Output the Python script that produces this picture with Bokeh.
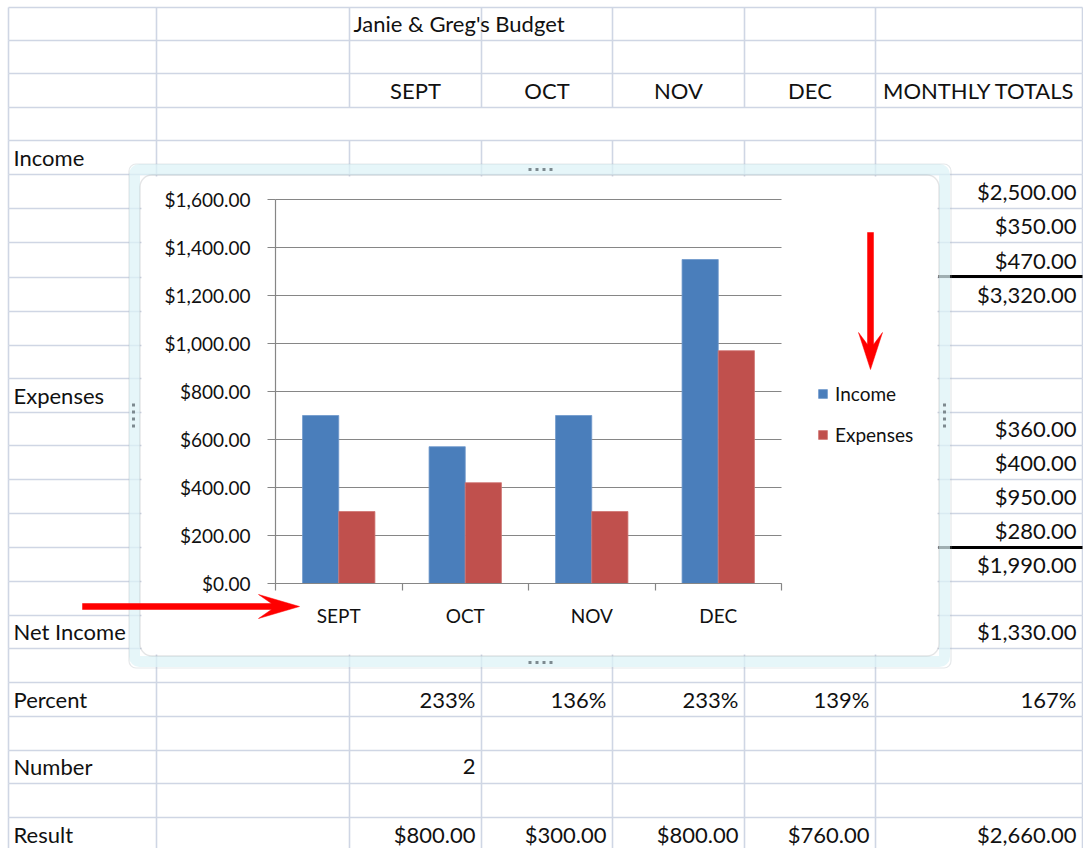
from bokeh.plotting import figure
from bokeh.models import (Range1d, ColumnDataSource, LinearAxis, BoxAnnotation,
                          Legend, LegendItem, NumeralTickFormatter, FixedTicker)
from bokeh.transform import dodge
from bokeh.core.properties import value
from bokeh.embed import file_html
from bokeh.resources import INLINE

# ---------------- chart data ----------------
months = ["SEPT", "OCT", "NOV", "DEC"]
income = [700, 570, 700, 1350]
expenses = [300, 420, 300, 970]
y_ticks = [0, 200, 400, 600, 800, 1000, 1200, 1400, 1600]

# ---------------- spreadsheet content ----------------
sheet_title = "Janie & Greg's Budget"
totals_header = "MONTHLY TOTALS"
row_labels = ["Income", "Expenses", "Net Income", "Percent", "Number", "Result"]
income_items = [2500, 350, 470]
income_total = 3320
expense_items = [360, 400, 950, 280]
expense_total = 1990
net_income_total = 1330
percent_row = ["233%", "136%", "233%", "139%"]
percent_total = "167%"
number_value = "2"
result_row = [800, 300, 800, 760]
result_total = 2660


def money(v):
    return "${:,.2f}".format(v)


# ---------------- page geometry (pixels from top-left) ----------------
W, H = 1083, 848
COL = [8, 156, 349, 481, 612, 744, 875, 1082]
ROW = [7, 40, 73, 107, 140, 174, 208, 242, 277, 311, 345, 378, 412, 445,
       479, 513, 547, 581, 615, 648, 682, 716, 750, 783, 817, 851]
INNER = (141, 937, 176, 654)            # chart interior (sheet grid hidden)
PL, PR, PT, PB = 275, 781, 199, 583     # chart plot area

FONT = "Lato"
CELL_SIZE = "22px"
CHART_SIZE = "19px"
TXT = "#111111"
AXC = "#868686"

n = len(months)
ymax = y_ticks[-1]
centers = [i + 0.5 for i in range(n)]

kx = (PR - PL) / n
ky = (PB - PT) / ymax

p = figure(width=W, height=H, x_range=Range1d(0, W), y_range=Range1d(H, 0),
           x_axis_type=None, y_axis_type=None,
           output_backend="svg", toolbar_location=None,
           min_border=0, min_border_left=0, min_border_right=0,
           min_border_top=0, min_border_bottom=0,
           background_fill_color="white", border_fill_color="white",
           outline_line_color=None)
p.extra_x_ranges = {"cat": Range1d(-PL / kx, (W - PL) / kx)}
p.extra_y_ranges = {"usd": Range1d(-(H - PB) / ky, PB / ky)}

# ---------------- sheet grid ----------------
def outside(a0, a1, b0, b1):
    if a1 <= b0 or a0 >= b1:
        return [(a0, a1)]
    parts = []
    if a0 < b0:
        parts.append((a0, b0))
    if a1 > b1:
        parts.append((b1, a1))
    return parts

gx0, gy0, gx1, gy1 = [], [], [], []
for y in ROW:
    segs = outside(COL[0], COL[-1], INNER[0], INNER[1]) if INNER[2] < y < INNER[3] else [(COL[0], COL[-1])]
    for a, b in segs:
        gx0.append(a); gx1.append(b); gy0.append(y); gy1.append(y)
merged = {349, 481, 612, 744}
for r in range(len(ROW) - 1):
    for x in COL:
        if r == 3 and x in merged:
            continue
        ya, yb = ROW[r], ROW[r + 1]
        segs = outside(ya, yb, INNER[2], INNER[3]) if INNER[0] < x < INNER[1] else [(ya, yb)]
        for a, b in segs:
            gx0.append(x); gx1.append(x); gy0.append(a); gy1.append(b)

p.segment(x0=gx0, y0=gy0, x1=gx1, y1=gy1, line_color="#cfd6e4", line_width=1.6,
          level="image")
p.segment(x0=[938, 938], x1=[1082, 1082], y0=[ROW[8] - 1, ROW[16]], y1=[ROW[8] - 1, ROW[16]],
          line_color="#000000", line_width=3, level="image")

# ---------------- chart container frame ----------------
p.add_layout(BoxAnnotation(left=134, right=944, top=169, bottom=661,
                           fill_color=None, fill_alpha=0, line_color="#dcf2f6",
                           line_alpha=0.72, line_width=11, border_radius=5,
                           level="underlay"))
p.add_layout(BoxAnnotation(left=128.5, right=950.5, top=163.5, bottom=667.5,
                           fill_color=None, fill_alpha=0, line_color="#aab3b8",
                           line_width=1.2, border_radius=7, level="underlay"))
p.add_layout(BoxAnnotation(left=139.5, right=938.5, top=174.5, bottom=655.5,
                           fill_color=None, fill_alpha=0, line_color="#a4a8ab",
                           line_width=1.4, border_radius=12, level="underlay"))
p.segment(x0=[528, 528, 133, 944], x1=[552, 552, 133, 944],
          y0=[169, 662, 403, 403], y1=[169, 662, 427, 427],
          line_color="#7d8a90", line_width=3, line_dash="3 4")

# ---------------- chart gridlines and bars ----------------
p.segment(x0=[0] * len(y_ticks), x1=[n] * len(y_ticks), y0=y_ticks, y1=y_ticks,
          line_color=AXC, line_width=1.2, x_range_name="cat", y_range_name="usd")

src = ColumnDataSource(dict(pos=centers, months=months, income=income, expenses=expenses))
r_inc = p.vbar(x=dodge("pos", -0.143), top="income", width=0.286, source=src,
               fill_color="#4a7ebb", line_color="#6f98cc", line_width=0.8,
               x_range_name="cat", y_range_name="usd")
r_exp = p.vbar(x=dodge("pos", 0.143), top="expenses", width=0.286, source=src,
               fill_color="#c0504d", line_color="#cf7471", line_width=0.8,
               x_range_name="cat", y_range_name="usd")

# ---------------- axes (drawn at the chart's own location) ----------------
yax = LinearAxis(y_range_name="usd", fixed_location=PL, bounds=(0, ymax),
                 ticker=FixedTicker(ticks=y_ticks),
                 formatter=NumeralTickFormatter(format="$0,0.00"))
yax.major_tick_in = 0
yax.major_tick_out = 8
yax.minor_tick_line_color = None
yax.major_label_standoff = 17
p.add_layout(yax, "left")

xax = LinearAxis(x_range_name="cat", y_range_name="usd", fixed_location=0,
                 bounds=(0, n),
                 ticker=FixedTicker(ticks=centers, minor_ticks=list(range(n + 1))))
xax.major_label_overrides = {c: m for c, m in zip(centers, months)}
xax.major_tick_line_color = None
xax.major_tick_in = 0
xax.major_tick_out = 0
xax.minor_tick_in = 0
xax.minor_tick_out = 7
xax.minor_tick_line_color = AXC
xax.minor_tick_line_width = 1.2
xax.major_label_standoff = 13
p.add_layout(xax, "below")

for ax in (xax, yax):
    ax.axis_line_color = AXC
    ax.axis_line_width = 1.2
    ax.major_label_text_font = FONT
    ax.major_label_text_font_size = CHART_SIZE
    ax.major_label_text_color = TXT
yax.major_tick_line_color = AXC
yax.major_tick_line_width = 1.2

# ---------------- legend ----------------
legend = Legend(items=[LegendItem(label="Income", renderers=[r_inc]),
                       LegendItem(label="Expenses", renderers=[r_exp])],
                location=(817, H - 446), orientation="vertical",
                glyph_width=11, glyph_height=11, label_standoff=7, spacing=17,
                label_height=24, padding=0, margin=0, border_line_color=None,
                background_fill_alpha=0,
                label_text_font=FONT, label_text_font_size=CHART_SIZE,
                label_text_color=TXT)
p.add_layout(legend)

# ---------------- sheet texts ----------------
def base(r):
    return ROW[r + 1] - 17

left_x, left_y, left_t = [353], [base(0)], [sheet_title]
for lab, r in zip(row_labels, [4, 11, 18, 20, 22, 24]):
    left_x.append(13); left_y.append(base(r)); left_t.append(lab)

cen_x, cen_y, cen_t = [], [], []
for i, m in enumerate(months):
    cen_x.append((COL[2 + i] + COL[3 + i]) / 2); cen_y.append(base(2)); cen_t.append(m)
cen_x.append((COL[6] + COL[7]) / 2); cen_y.append(base(2)); cen_t.append(totals_header)

GX = COL[7] - 6
right_x, right_y, right_t = [], [], []
for v, r in zip(income_items, [5, 6, 7]):
    right_x.append(GX); right_y.append(base(r)); right_t.append(money(v))
right_x.append(GX); right_y.append(base(8)); right_t.append(money(income_total))
for v, r in zip(expense_items, [12, 13, 14, 15]):
    right_x.append(GX); right_y.append(base(r)); right_t.append(money(v))
right_x.append(GX); right_y.append(base(16)); right_t.append(money(expense_total))
right_x.append(GX); right_y.append(base(18)); right_t.append(money(net_income_total))
for i, v in enumerate(percent_row):
    right_x.append(COL[3 + i] - 6); right_y.append(base(20)); right_t.append(v)
right_x.append(GX); right_y.append(base(20)); right_t.append(percent_total)
right_x.append(COL[3] - 6); right_y.append(base(22)); right_t.append(number_value)
for i, v in enumerate(result_row):
    right_x.append(COL[3 + i] - 6); right_y.append(base(24)); right_t.append(money(v))
right_x.append(GX); right_y.append(base(24)); right_t.append(money(result_total))

for xs, ys, ts, al in ((left_x, left_y, left_t, "left"),
                       (cen_x, cen_y, cen_t, "center"),
                       (right_x, right_y, right_t, "right")):
    p.text(x=xs, y=ys, text=ts, text_align=al, text_baseline="alphabetic",
           text_font=value(FONT), text_font_size=value(CELL_SIZE), text_color=TXT)

# ---------------- red call-out arrows ----------------
arrow_xs = [[82, 271, 258, 299, 258, 271, 82],
            [867, 867, 858, 870, 882, 873, 873]]
arrow_ys = [[603, 603, 594, 606, 618, 609, 609],
            [232, 344, 332, 369, 332, 344, 232]]
p.patches(xs=arrow_xs, ys=arrow_ys, fill_color="#ff0000", line_color="#ff0000",
          line_width=0.5)

open("out.html", "w").write(file_html(p, INLINE))
